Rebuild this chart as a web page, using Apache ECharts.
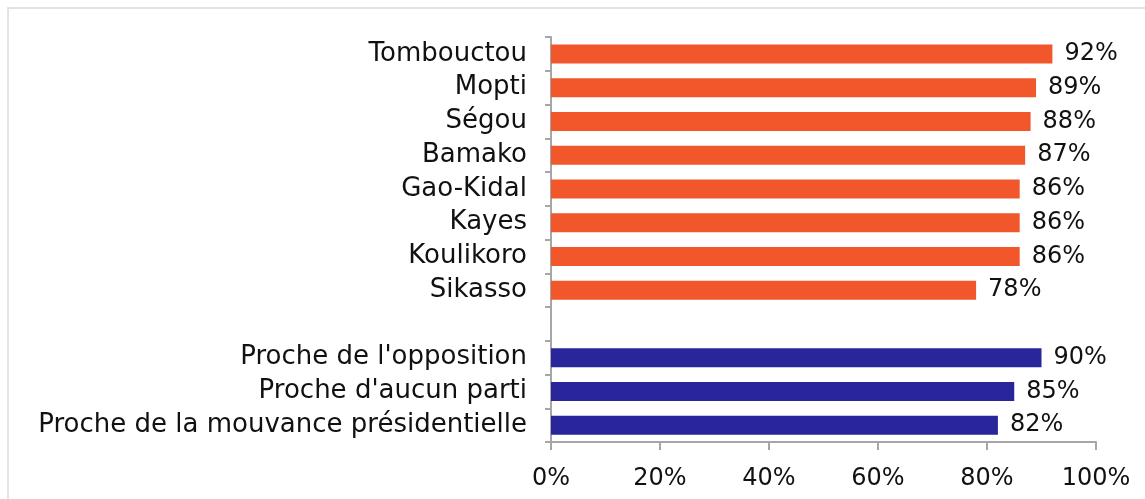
<!DOCTYPE html>
<html>
<head>
<meta charset="utf-8">
<script src="https://cdn.jsdelivr.net/npm/echarts@6/dist/echarts.min.js"></script>
<style>
  html, body { margin: 0; padding: 0; background: #fff; }
  #chart { width: 1145px; height: 499px; }
</style>
</head>
<body>
<div id="chart"></div>
<script>
// regions (orange) then political proximity (blue), separated by an empty row
const regions = ['Tombouctou', 'Mopti', 'Ségou', 'Bamako', 'Gao-Kidal', 'Kayes', 'Koulikoro', 'Sikasso']
const regionValues = [92, 89, 88, 87, 86, 86, 86, 78]
const partis = ["Proche de l'opposition", "Proche d'aucun parti", 'Proche de la mouvance présidentielle']
const partiValues = [90, 85, 82]
const xTicks = [0, 20, 40, 60, 80, 100]

const categories = [...regions, '', ...partis]
const orangeData = [...regionValues, null, ...partis.map(() => null)]
const blueData = [...regions.map(() => null), null, ...partiValues]

const font = 'DejaVu Sans'
const chart = echarts.init(document.getElementById('chart'))

const valueLabel = {
  show: true,
  position: 'right',
  distance: 12,
  formatter: (p) => p.value + '%',
  color: '#111',
  fontFamily: font,
  fontSize: 24,
}

chart.setOption({
  animation: false,
  graphic: [{
    type: 'rect',
    shape: { x: 8, y: 8, width: 1300, height: 700 },
    style: { fill: 'none', stroke: '#e3e3e3', lineWidth: 2 },
    silent: true,
  }],
  grid: { left: 551, right: 49, top: 37, bottom: 57 },
  xAxis: {
    type: 'value',
    min: xTicks[0],
    max: xTicks[xTicks.length - 1],
    interval: 20,
    splitLine: { show: false },
    axisLine: { show: true, lineStyle: { color: '#a6a6a6', width: 2 } },
    axisTick: { show: true, length: 8, lineStyle: { color: '#a6a6a6', width: 2 } },
    axisLabel: {
      margin: 25,
      formatter: (v) => v + '%',
      color: '#111',
      fontFamily: font,
      fontSize: 24,
    },
  },
  yAxis: {
    type: 'category',
    inverse: true,
    data: categories,
    axisLine: { show: true, lineStyle: { color: '#a6a6a6', width: 2 } },
    axisTick: { show: true, interval: 0, length: 6, lineStyle: { color: '#a6a6a6', width: 2 } },
    axisLabel: {
      interval: 0,
      hideOverlap: false,
      margin: 24,
      color: '#111',
      fontFamily: font,
      fontSize: 26,
    },
  },
  series: [
    {
      name: 'Régions',
      type: 'bar',
      data: orangeData,
      barWidth: 19,
      barGap: '-100%',
      itemStyle: { color: '#F2572B' },
      label: valueLabel,
    },
    {
      name: 'Partis',
      type: 'bar',
      data: blueData,
      barWidth: 19,
      itemStyle: { color: '#29259A' },
      label: valueLabel,
    },
  ],
})
</script>
</body>
</html>
